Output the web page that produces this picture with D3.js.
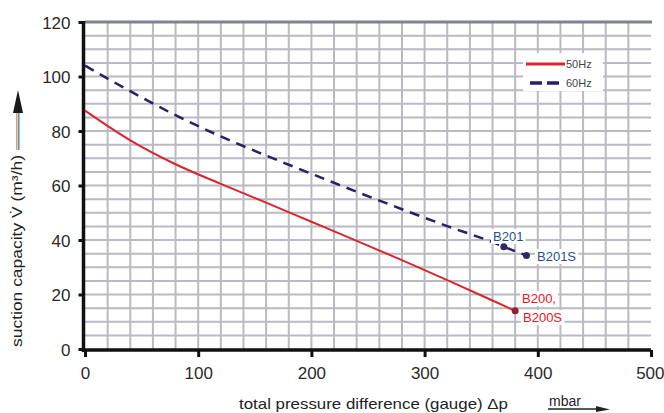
<!DOCTYPE html>
<html><head><meta charset="utf-8">
<script src="https://cdn.jsdelivr.net/npm/d3@7"></script>
<style>html,body{margin:0;padding:0;background:#fff;}svg{display:block;}</style>
</head><body>
<svg id="c" width="664" height="413"></svg>
<script>
const seriesNames = ["50Hz", "60Hz"];
const redX = [0, 40, 80, 120, 160, 200, 240, 280, 320, 360, 380];
const redY = [87.5, 76.6, 67.8, 60.6, 53.7, 46.7, 39.7, 32.6, 25.3, 17.8, 14];
const blueX = [0, 40, 80, 120, 160, 200, 240, 280, 320, 360, 370, 390];
const blueY = [104, 94.6, 85.8, 78, 71, 64.3, 57.7, 51.3, 45.1, 39.2, 37.5, 34.3];
const pointNames = ["B201", "B201S", "B200,", "B200S"];
const pointX = [370, 390, 380];
const pointY = [37.5, 34.3, 14];
const xTicks = [0, 100, 200, 300, 400, 500];
const yTicks = [0, 20, 40, 60, 80, 100, 120];
const xTitle = "total pressure difference (gauge) \u0394p";
const xUnit = "mbar";
const yTitle = "suction capacity V\u0307 (m\u00B3/h)";

const svg = d3.select("#c");
const x = d3.scaleLinear().domain([0, 500]).range([85, 651]);
const y = d3.scaleLinear().domain([0, 120]).range([349, 22]);
const font = "'Liberation Sans', Arial, sans-serif";
const gridC = "#b9bac2";

// grid
const g = svg.append("g");
g.selectAll(".vg").data(d3.range(20, 500, 20)).enter().append("line")
  .attr("x1", d => x(d)).attr("x2", d => x(d)).attr("y1", y(120)).attr("y2", y(0))
  .attr("stroke", gridC).attr("stroke-width", 2);
g.selectAll(".hg").data(d3.range(5, 120, 5)).enter().append("line")
  .attr("x1", x(0)).attr("x2", x(500)).attr("y1", d => y(d)).attr("y2", d => y(d))
  .attr("stroke", gridC).attr("stroke-width", 2);
// top border
g.append("line").attr("x1", x(0)).attr("x2", x(500) + 1).attr("y1", y(120)).attr("y2", y(120))
  .attr("stroke", "#7d848b").attr("stroke-width", 3);

// axes
const yAxis = d3.axisLeft(y).tickValues(yTicks).tickSize(5).tickPadding(8).tickFormat(d3.format("d"));
const xAxis = d3.axisBottom(x).tickValues(xTicks).tickSize(7).tickPadding(10).tickFormat(d3.format("d"));
const ya = svg.append("g").attr("transform", `translate(${x(0) - 1.5},0)`).call(yAxis);
const xa = svg.append("g").attr("transform", `translate(0,${y(0) + 1})`).call(xAxis);
[ya, xa].forEach(a => {
  a.select(".domain").attr("stroke", "#111").attr("stroke-width", 3.5);
  a.selectAll(".tick line").attr("stroke", "#111").attr("stroke-width", 3);
  a.selectAll(".tick text").attr("fill", "#2a2a2a").style("font-family", font).style("font-size", "17px");
});
ya.select(".domain").attr("d", `M0,${y(120) - 1}V${y(0) + 3}`);
xa.select(".domain").attr("d", `M${x(0) - 3},0H${x(500)}`);
ya.selectAll(".tick text").attr("dy", "0.36em");
xa.selectAll(".tick text").filter(d => d === 500).attr("text-anchor", "end").attr("x", 13);

// legend background
const lg = svg.append("g");
lg.append("rect").attr("x", 523).attr("y", 53).attr("width", 80).attr("height", 38).attr("fill", "#fff");

// lines
const line = d3.line().x(d => x(d[0])).y(d => y(d[1])).curve(d3.curveMonotoneX);
const redData = redX.map((v, i) => [v, redY[i]]);
const blueData = blueX.map((v, i) => [v, blueY[i]]);
svg.append("path").datum(redData).attr("d", line).attr("fill", "none")
  .attr("stroke", "#d9262c").attr("stroke-width", 2);
svg.append("path").datum(blueData).attr("d", line).attr("fill", "none")
  .attr("stroke", "#2d1d6b").attr("stroke-width", 2.5).attr("stroke-dasharray", "10,7");

// labels with white backgrounds
const labels = [
  {t: pointNames[0], px: 493, py: 241, c: "#1f4f98"},
  {t: pointNames[1], px: 537, py: 261, c: "#1f4f98"},
  {t: pointNames[2], px: 522, py: 303, c: "#e8141e"},
  {t: pointNames[3], px: 523, py: 322, c: "#e8141e"}
];
labels.forEach(l => {
  const bg = svg.append("rect").attr("fill", "#fff");
  const t = svg.append("text").attr("x", l.px).attr("y", l.py).text(l.t)
    .attr("fill", l.c).style("font-family", font).style("font-size", "13px");
  const b = t.node().getBBox();
  bg.attr("x", b.x - 2).attr("y", b.y).attr("width", b.width + 4).attr("height", b.height);
});

// points
const pts = pointX.map((v, i) => [v, pointY[i]]);
svg.selectAll(".pt").data(pts).enter().append("circle")
  .attr("cx", d => x(d[0])).attr("cy", d => y(d[1])).attr("r", 3.5)
  .attr("fill", (d, i) => i < 2 ? "#2e2a5c" : "#8e2230");

// legend content
lg.append("line").attr("x1", 526).attr("x2", 565).attr("y1", 64).attr("y2", 64)
  .attr("stroke", "#d9262c").attr("stroke-width", 3);
lg.append("line").attr("x1", 530).attr("x2", 563).attr("y1", 83).attr("y2", 83)
  .attr("stroke", "#2d1d6b").attr("stroke-width", 3.5).attr("stroke-dasharray", "12,5");
lg.selectAll(".lt").data(seriesNames).enter().append("text")
  .attr("x", 566).attr("y", (d, i) => i === 0 ? 68 : 87).text(d => d)
  .attr("fill", "#444").style("font-family", font).style("font-size", "11px");

// x title
svg.append("text").attr("x", 239).attr("y", 409).text(xTitle)
  .attr("fill", "#222").style("font-family", font).style("font-size", "15px")
  .attr("textLength", 269).attr("lengthAdjust", "spacingAndGlyphs");
svg.append("text").attr("x", 549).attr("y", 406).text(xUnit)
  .attr("fill", "#222").style("font-family", font).style("font-size", "14px");
svg.append("line").attr("x1", 548).attr("x2", 604).attr("y1", 409).attr("y2", 409)
  .attr("stroke", "#222").attr("stroke-width", 1.3);
svg.append("path").attr("d", "M596,406 L610,409.5 L596,412 Z").attr("fill", "#222");

// y title
svg.append("text").attr("transform", "translate(22,347) rotate(-90)").text(yTitle)
  .attr("fill", "#222").style("font-family", font).style("font-size", "15px")
  .attr("textLength", 192).attr("lengthAdjust", "spacingAndGlyphs");
svg.append("line").attr("x1", 16.8).attr("x2", 16.8).attr("y1", 150).attr("y2", 108)
  .attr("stroke", "#e3a15a").attr("stroke-width", 1.6);
svg.append("line").attr("x1", 18.8).attr("x2", 18.8).attr("y1", 150).attr("y2", 108)
  .attr("stroke", "#4a9ad6").attr("stroke-width", 1.6);
svg.append("path").attr("d", "M18,90 L23,113 L13,113 Z").attr("fill", "#1a1a1a");
</script>
</body></html>
